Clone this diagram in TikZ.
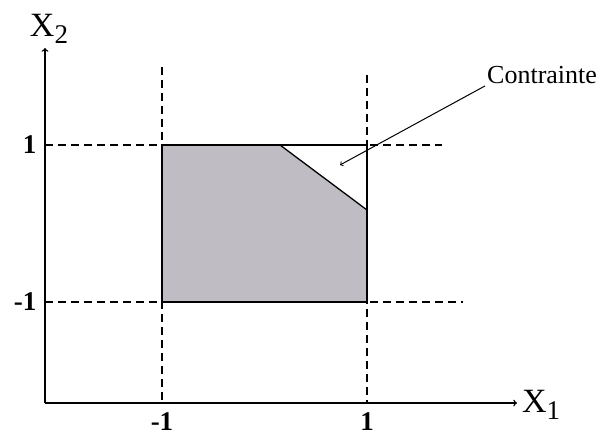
\documentclass[tikz,border=0pt]{standalone}
\usepackage{fontspec}
\setmainfont{Liberation Serif}
\definecolor{regiongray}{RGB}{192,188,196}
\newcommand{\axislabel}[2]{#1\raisebox{-0.45ex}{\fontsize{27}{27}\selectfont #2}}
\begin{document}
\begin{tikzpicture}[x=1pt,y=-1pt,
    guide/.style={dash pattern=on 8pt off 5pt, line width=1.2pt},
    edge/.style={line width=1.3pt},
    ticklabel/.style={font=\fontsize{27}{27}\selectfont\bfseries}]
    \useasboundingbox (0,0) rectangle (608,441);
    % Region (shaded) with the cut corner
    \fill[regiongray] (162,145) -- (280,145) -- (367,210) -- (367,302) -- (162,302) -- cycle;
    \draw[edge] (162,145) rectangle (367,302); % Box
    \draw[edge] (280,145) -- (367,210); % Constraint
    
    % Guides at -1 and 1
    \draw[guide] (162,67) -- (162,403);
    \draw[guide] (367,75) -- (367,403);
    \draw[guide] (45,145) -- (442,145);
    \draw[guide] (45,302) -- (463,302);
    
    % Axes
    \coordinate (o) at (45,403);
    \draw[->, line width=1.4pt] (o) -- (517,403) node[right, xshift=1pt, yshift=-2pt, font=\fontsize{34}{34}\selectfont] (xone) {\axislabel{X}{1}};
    \draw[->, line width=1.4pt] (o) -- (45,48) node[above, xshift=4pt, font=\fontsize{34}{34}\selectfont] (xtwo) {\axislabel{X}{2}};
    
    % Tick labels
    \node[ticklabel, left] (yp) at (40,145) {1};
    \node[ticklabel, left] (ym) at (40,302) {-1};
    \node[ticklabel, below] (xm) at (162,409) {-1};
    \node[ticklabel, below] (xp) at (367,409) {1};
    
    \node[font=\fontsize{26}{26}\selectfont, anchor=west, inner sep=2pt] (contr) at (485,75) {Contrainte};
    \coordinate (tip) at (340,165);
    \draw[->, line width=1pt] (contr.south west) -- (tip);
\end{tikzpicture}
\end{document}
